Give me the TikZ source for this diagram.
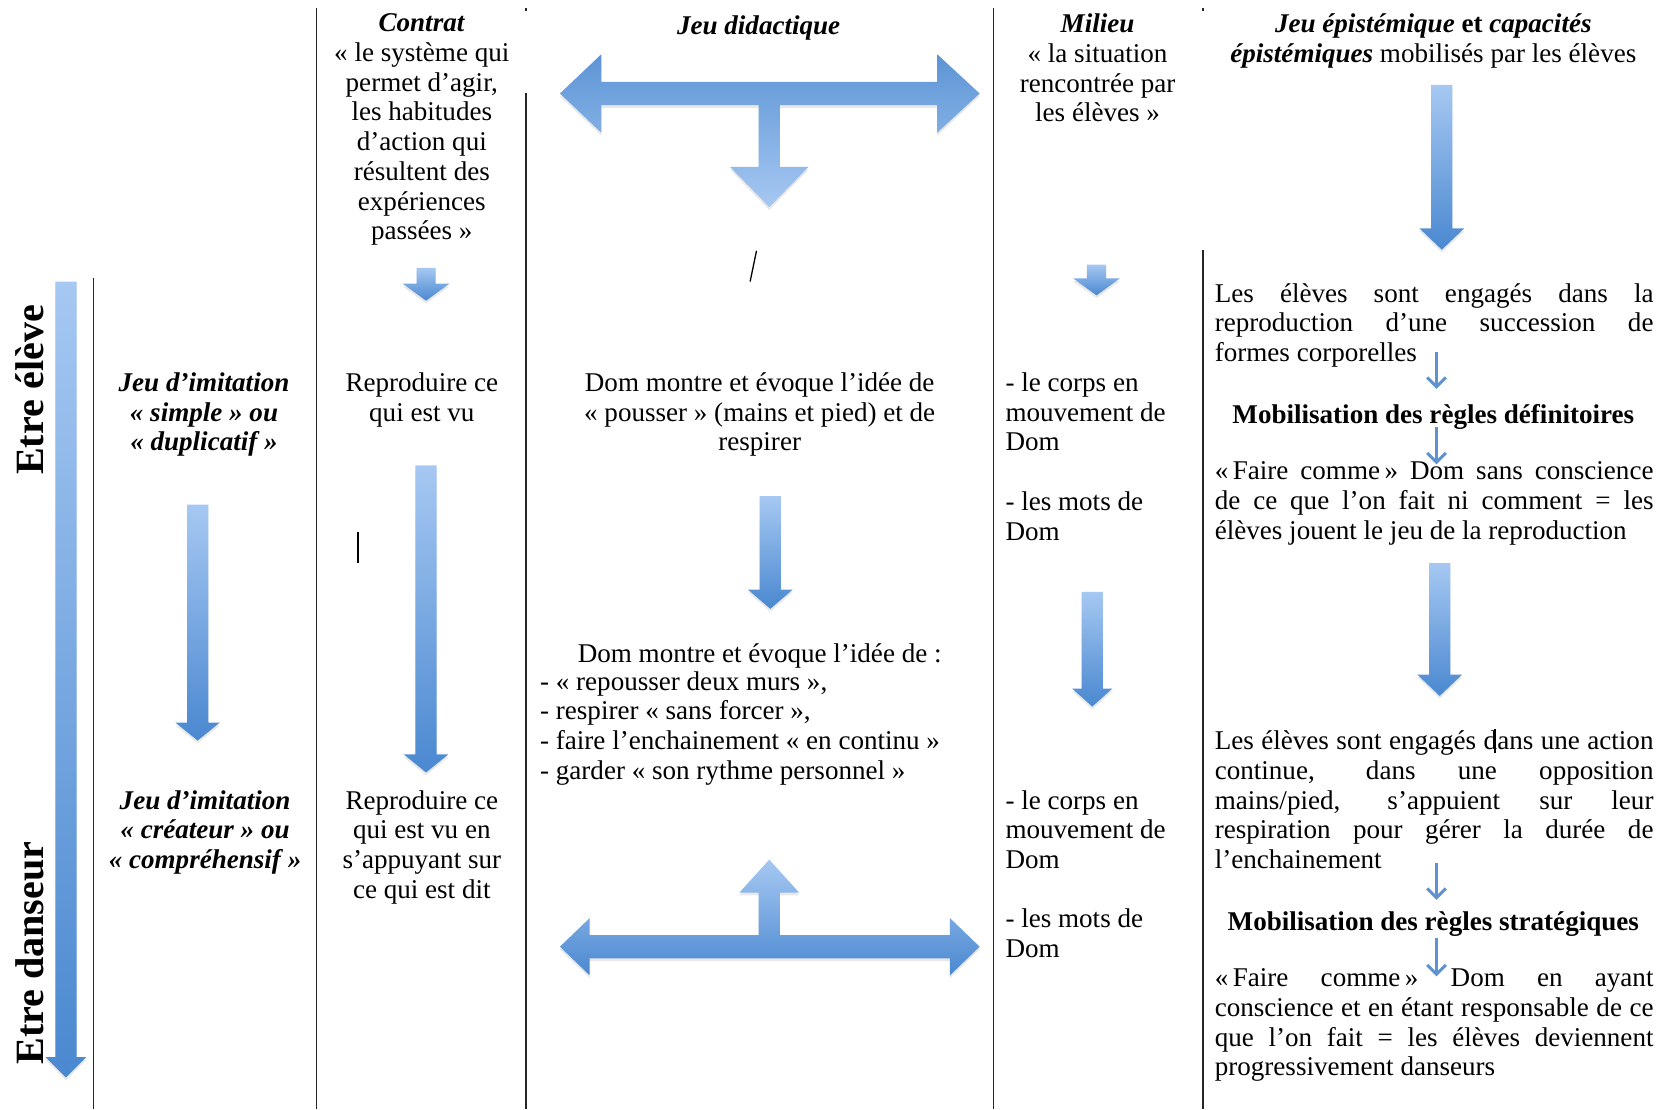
\documentclass[tikz,border=0pt]{standalone}
\usepackage{fontspec}
\setmainfont{Liberation Serif}
\usetikzlibrary{arrows.meta,shadows}

\definecolor{bleuclair}{RGB}{166,200,242}
\definecolor{bleufonce}{RGB}{74,136,208}
\definecolor{bleufleche}{RGB}{96,146,208}

% largeur des lignes justifiees
\newlength{\jw}
\setlength{\jw}{235pt}
\newcommand{\jligne}[1]{\makebox[\jw][s]{#1}}

% fleche vers le bas : x, haut, base de la tete, pointe, demi-tige, demi-tete
\newcommand{\flechebas}[6]{%
  \shade[ombre, top color=bleuclair, bottom color=bleufonce]
    (#1-#5,#2) -- (#1+#5,#2) -- (#1+#5,#3) -- (#1+#6,#3) -- (#1,#4)
    -- (#1-#6,#3) -- (#1-#5,#3) -- cycle;}

\begin{document}
\begin{tikzpicture}[x=0.02cm,y=-0.02cm,
  texte/.style={font=\fontsize{14.5pt}{15.93pt}\selectfont, inner sep=0pt,
    align=center, anchor=north, execute at begin node=\strut},
  gauche/.style={texte, align=left, anchor=north west},
  etre/.style={font=\fontsize{21.5pt}{24pt}\selectfont\bfseries, rotate=90, inner sep=0pt},
  trait/.style={line width=0.8pt, black!85},
  ombre/.style={drop shadow={opacity=0.18, shadow xshift=0pt, shadow yshift=-1.5pt}},
  petite/.style={line width=1.6pt, bleufleche, -{Straight Barb[length=5pt,width=10pt]}}]

	\useasboundingbox (0,0) rectangle (1568,1044);

	% Lignes du tableau
	\draw[trait] (88,262) -- (88,1044);
	\draw[trait] (298,8) -- (298,1044);
	\draw[trait] (495,8) -- (495,10);
	\draw[trait] (495,88) -- (495,1044);
	\draw[trait] (935,8) -- (935,1044);
	\draw[trait] (1132,8) -- (1132,10);
	\draw[trait] (1132,235) -- (1132,1044);

	% En-tetes
	\node[texte] (contrat) at (397,12.6) {\textbf{\textit{Contrat}}\\« le système qui\\permet d’agir,\\les habitudes\\d’action qui\\résultent des\\expériences\\passées »};
	\node[texte] (didac) at (714,12.6) {\textbf{\textit{Jeu didactique}}};
	\node[texte] (milieu) at (1033,12.6) {\textbf{\textit{Milieu}}\\« la situation\\rencontrée par\\les élèves »};
	\node[texte] (episte) at (1349,12.6) {\textbf{\textit{Jeu épistémique} et \textit{capacités}}\\\textbf{\textit{épistémiques}} mobilisés par les élèves};

	% Etre eleve / Etre danseur
	\flechebas{62}{265}{995}{1014}{10}{19}
	\node[etre] (eleve) at (28,367) {Etre élève};
	\node[etre] (danseur) at (28,897) {Etre danseur};

	% Jeux d'imitation
	\node[texte] (imit1) at (192,350.4) {\textbf{\textit{Jeu d’imitation}}\\\textbf{\textit{« simple » ou}}\\\textbf{\textit{« duplicatif »}}};
	\flechebas{186}{475}{680}{697}{10}{21}
	\node[texte] (imit2) at (193,743.4) {\textbf{\textit{Jeu d’imitation}}\\\textbf{\textit{« créateur » ou}}\\\textbf{\textit{« compréhensif »}}};

	% Contrat
	\flechebas{401}{252}{267}{283}{9}{22}
	\node[texte] (repr1) at (397,350.4) {Reproduire ce\\qui est vu};
	\draw[line width=0.7pt] (337,501) -- (337,530);
	\flechebas{401}{438}{710}{727}{10}{21}
	\node[texte] (repr2) at (397,743.4) {Reproduire ce\\qui est vu en\\s’appuyant sur\\ce qui est dit};

	% Jeu didactique
	\shade[ombre, top color=bleufonce!90, bottom color=bleuclair] (527,88) -- (566,51) -- (566,77) -- (882,77) -- (882,51) -- (922,88) -- (882,125) -- (882,99) -- (734,99) -- (734,157) -- (761,157) -- (724,195) -- (687,157) -- (714,157) -- (714,99) -- (566,99) -- (566,125) -- cycle;
	\draw[line width=0.7pt] (706,265) -- (712,236);
	\node[texte] (dom1) at (715,350.4) {Dom montre et évoque l’idée de\\« pousser » (mains et pied) et de\\respirer};
	\flechebas{725}{467}{555}{573}{10}{21}
	\node[texte] (dom2) at (715,603.4) {Dom montre et évoque l’idée de :};
	\node[gauche] (liste) at (508,631.4) {- « repousser deux murs »,\\- respirer « sans forcer »,\\- faire l’enchainement « en continu »\\- garder « son rythme personnel »};
	\shade[ombre, top color=bleuclair, bottom color=bleufonce] (527,891) -- (555,864) -- (555,880) -- (714,880) -- (714,840) -- (696,840) -- (724,809) -- (752,840) -- (734,840) -- (734,880) -- (894,880) -- (894,864) -- (922,891) -- (894,918) -- (894,902) -- (555,902) -- (555,918) -- cycle;

	% Milieu
	\flechebas{1032}{249}{262}{278}{9}{22}
	\node[gauche] (mil1) at (946,350.4) {- le corps en\\mouvement de\\Dom\\[15.93pt]- les mots de\\Dom};
	\flechebas{1028}{557}{648}{665}{10}{19}
	\node[gauche] (mil2) at (946,743.4) {- le corps en\\mouvement de\\Dom\\[15.93pt]- les mots de\\Dom};

	% Jeu epistemique
	\flechebas{1357}{80}{215}{235}{10}{21}
	\node[gauche] (epi1) at (1143,266.4) {\jligne{Les élèves sont engagés dans la}\\\jligne{reproduction d’une succession de}\\formes corporelles};
	\node[texte, font=\fontsize{14.5pt}{15.93pt}\selectfont\bfseries] (regle1) at (1349,378.4) {Mobilisation des règles définitoires};
	\node[gauche] (epi2) at (1143,434.4) {\jligne{«\,Faire comme\,» Dom sans conscience}\\\jligne{de ce que l’on fait ni comment = les}\\élèves jouent le jeu de la reproduction};
	\coordinate (f1a) at (1352,331);
	\coordinate (f1b) at (1352,366);
	\coordinate (f2a) at (1352,402);
	\coordinate (f2b) at (1352,437);
	\draw[petite] (f1a) -- (f1b);
	\draw[petite] (f2a) -- (f2b);

	\flechebas{1355}{530}{635}{655}{10}{21}
	\node[gauche] (epi3) at (1143,687.4) {\jligne{Les élèves sont engagés dans une action}\\\jligne{continue, dans une opposition}\\\jligne{mains/pied, s’appuient sur leur}\\\jligne{respiration pour gérer la durée de}\\l’enchainement};
	\draw[line width=0.6pt] (1407,686) -- (1407,709);
	\node[texte, font=\fontsize{14.5pt}{15.93pt}\selectfont\bfseries] (regle2) at (1349,855.4) {Mobilisation des règles stratégiques};
	\node[gauche] (epi4) at (1143,911.4) {\jligne{«\,Faire comme\,» Dom en ayant}\\\jligne{conscience et en étant responsable de ce}\\\jligne{que l’on fait = les élèves deviennent}\\progressivement danseurs};
	\coordinate (f3a) at (1352,812);
	\coordinate (f3b) at (1352,847);
	\coordinate (f4a) at (1352,883);
	\coordinate (f4b) at (1352,919);
	\draw[petite] (f3a) -- (f3b);
	\draw[petite] (f4a) -- (f4b);

\end{tikzpicture}
\end{document}
